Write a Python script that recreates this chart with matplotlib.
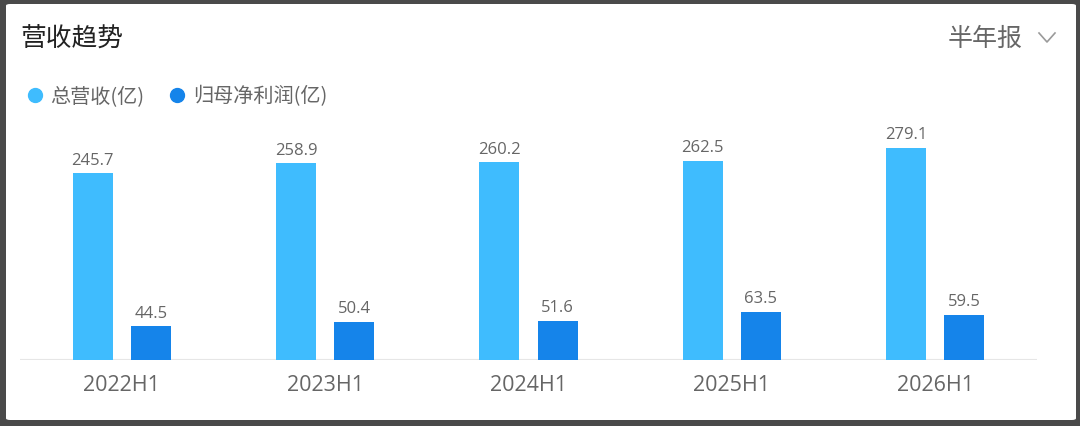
import matplotlib
matplotlib.use('Agg')
import matplotlib.pyplot as plt
from matplotlib.patches import FancyBboxPatch
from matplotlib.lines import Line2D
import numpy as np

periods = ['2022H1', '2023H1', '2024H1', '2025H1', '2026H1']
revenue = [245.7, 258.9, 260.2, 262.5, 279.1]
net_profit = [44.5, 50.4, 51.6, 63.5, 59.5]
series_names = ['总营收(亿)', '归母净利润(亿)']

plt.rcParams['font.family'] = ['Noto Sans CJK SC', 'DejaVu Sans']
num_font = ['Open Sans', 'Noto Sans CJK SC']

W, H = 1080, 427
c_light = '#3FBCFE'
c_dark = '#1584EA'
c_text = '#666666'

fig = plt.figure(figsize=(W / 100, H / 100), dpi=100)
fig.patch.set_facecolor('#4a4a4a')

def fx(px):
    return px / W

def fy(py):
    return 1 - py / H

# white card behind everything
card = FancyBboxPatch((fx(6), fy(421)), fx(1076) - fx(6), fy(5) - fy(421),
                      boxstyle='round,pad=0,rounding_size=0.004',
                      transform=fig.transFigure, facecolor='white',
                      edgecolor='none', zorder=-10)
fig.add_artist(card)

fig.text(fx(20), fy(39), '营收趋势', fontsize=18.5, color='#222222',
         va='center', ha='left')
fig.text(fx(1023), fy(39), '半年报', fontsize=18, color=c_text,
         va='center', ha='right')
fig.add_artist(Line2D([fx(1039), fx(1047), fx(1055)], [fy(34), fy(43), fy(34)],
                      transform=fig.transFigure, color='#9a9a9a', lw=1.2))

# legend
for cx, tx, name, col in [(35, 50, series_names[0], c_light),
                          (176.5, 193, series_names[1], c_dark)]:
    fig.add_artist(Line2D([fx(cx)], [fy(96)], transform=fig.transFigure,
                          marker='o', markersize=10, color=col, lw=0))
    fig.text(fx(tx), fy(97), name, fontsize=14.5, color=c_text,
             va='center', ha='left')

ax = fig.add_axes([fx(20), fy(361), fx(1037) - fx(20), fy(121) - fy(361)])
ax.set_facecolor('none')
x = np.arange(len(periods))
bw = 0.197
off = 0.143
b1 = ax.bar(x - off, revenue, bw, color=c_light, zorder=2)
b2 = ax.bar(x + off, net_profit, bw, color=c_dark, zorder=2)

for bars, vals in [(b1, revenue), (b2, net_profit)]:
    for rect, v in zip(bars, vals):
        ax.annotate(f'{v:.1f}', (rect.get_x() + rect.get_width() / 2, v),
                    xytext=(0, 4), textcoords='offset points',
                    ha='center', va='bottom', fontsize=12, color=c_text,
                    family=num_font)

ax.set_xlim(-0.5, len(periods) - 0.5)
ax.set_ylim(0, 316)
ax.axhline(0, color='#e6e6e6', lw=1.5, zorder=1)
ax.set_xticks(x)
ax.set_xticklabels(periods, fontsize=15.5, color=c_text, family=num_font)
ax.tick_params(axis='x', length=0, pad=10)
ax.set_yticks([])
for s in ax.spines.values():
    s.set_visible(False)

fig.savefig('out.png', dpi=100, facecolor=fig.get_facecolor())
